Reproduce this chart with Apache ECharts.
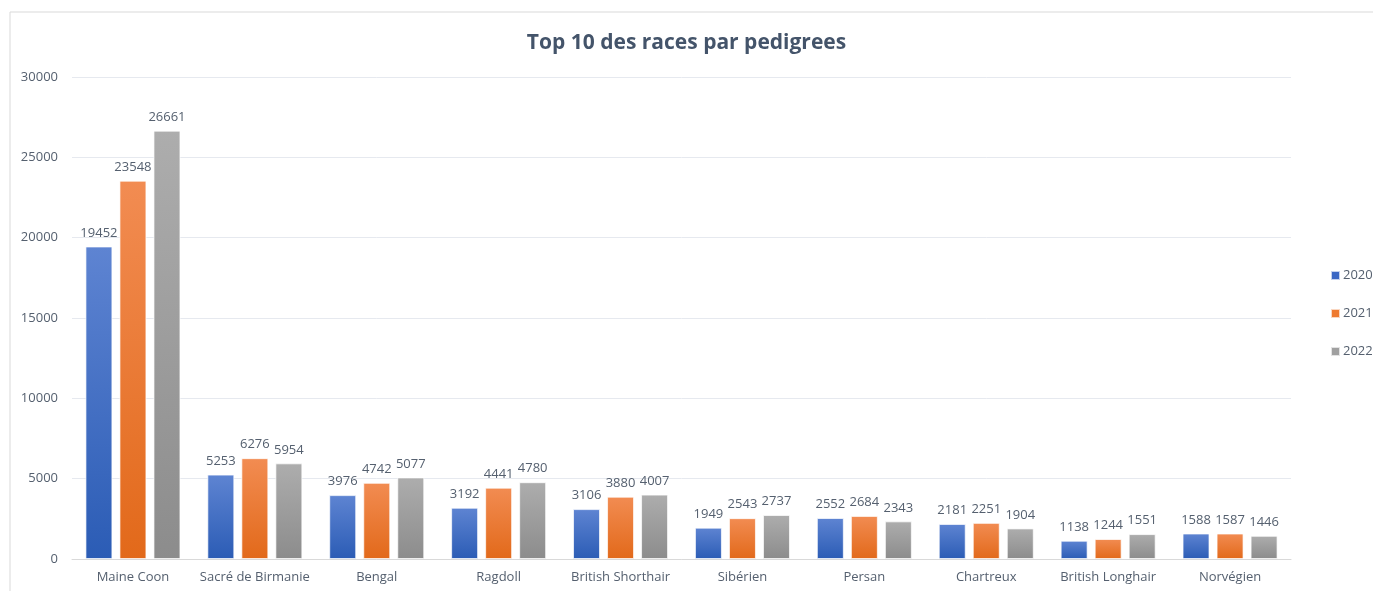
<!DOCTYPE html>
<html><head><meta charset="utf-8">
<script src="https://cdn.jsdelivr.net/npm/echarts@6/dist/echarts.min.js"></script>
<style>html,body{margin:0;padding:0;background:#fff}#c{width:1373px;height:591px}</style>
</head><body><div id="c"></div>
<script>
const categories = ["Maine Coon","Sacré de Birmanie","Bengal","Ragdoll","British Shorthair","Sibérien","Persan","Chartreux","British Longhair","Norvégien"];
const years = ["2020","2021","2022"];
const v2020 = [19452,5253,3976,3192,3106,1949,2552,2181,1138,1588];
const v2021 = [23548,6276,4742,4441,3880,2543,2684,2251,1244,1587];
const v2022 = [26661,5954,5077,4780,4007,2737,2343,1904,1551,1446];
const yTicks = [0,5000,10000,15000,20000,25000,30000];

const font = "'Open Sans', 'Noto Sans', sans-serif";
const txt = '#55606f';
const grads = [['#5e84d2','#2b5cb5'],['#f28c52','#e2691a'],['#adadad','#8c8c8c']];
const legendCols = ['#3a67c4','#ee7a30','#a0a0a0'];
function grad(c){return new echarts.graphic.LinearGradient(0,0,0,1,[{offset:0,color:c[0]},{offset:1,color:c[1]}]);}
const vals = [v2020,v2021,v2022];
const chart = echarts.init(document.getElementById('c'));
chart.setOption({
  backgroundColor:'#fff',
  animation:false,
  graphic:[{type:'rect',shape:{x:10,y:12,width:1370,height:590},style:{fill:'none',stroke:'#d9d9d9',lineWidth:1},silent:true}],
  title:{text:'Top 10 des races par pedigrees',left:'center',top:28,textStyle:{fontFamily:font,fontSize:21,fontWeight:'bold',color:'#44546a'}},
  legend:{orient:'vertical',left:1325,top:264,itemGap:25,itemWidth:9,itemHeight:9,icon:'rect',
    data:years.map((y,i)=>({name:y,itemStyle:{color:legendCols[i]}})),
    textStyle:{fontFamily:font,fontSize:13,color:txt,padding:[0,0,0,-2]}},
  grid:{left:72,right:82,top:77,bottom:32,containLabel:false},
  xAxis:{type:'category',data:categories,axisTick:{show:false},
    axisLine:{lineStyle:{color:'#d9d9d9'}},
    axisLabel:{interval:0,fontFamily:font,fontSize:13,color:txt,margin:12}},
  yAxis:{type:'value',min:yTicks[0],max:yTicks[yTicks.length-1],interval:5000,
    axisLabel:{fontFamily:font,fontSize:13,color:txt,margin:14,formatter:v=>String(v)},
    splitLine:{lineStyle:{color:'#e6e9ef'}}},
  series:years.map((y,i)=>({name:y,type:'bar',data:vals[i],barWidth:27,barGap:'26%',
    itemStyle:{color:grad(grads[i]),borderColor:'rgba(255,255,255,0.7)',borderWidth:1},
    label:{show:true,position:'top',distance:7,fontFamily:font,fontSize:13,color:txt}}))
});
</script></body></html>
